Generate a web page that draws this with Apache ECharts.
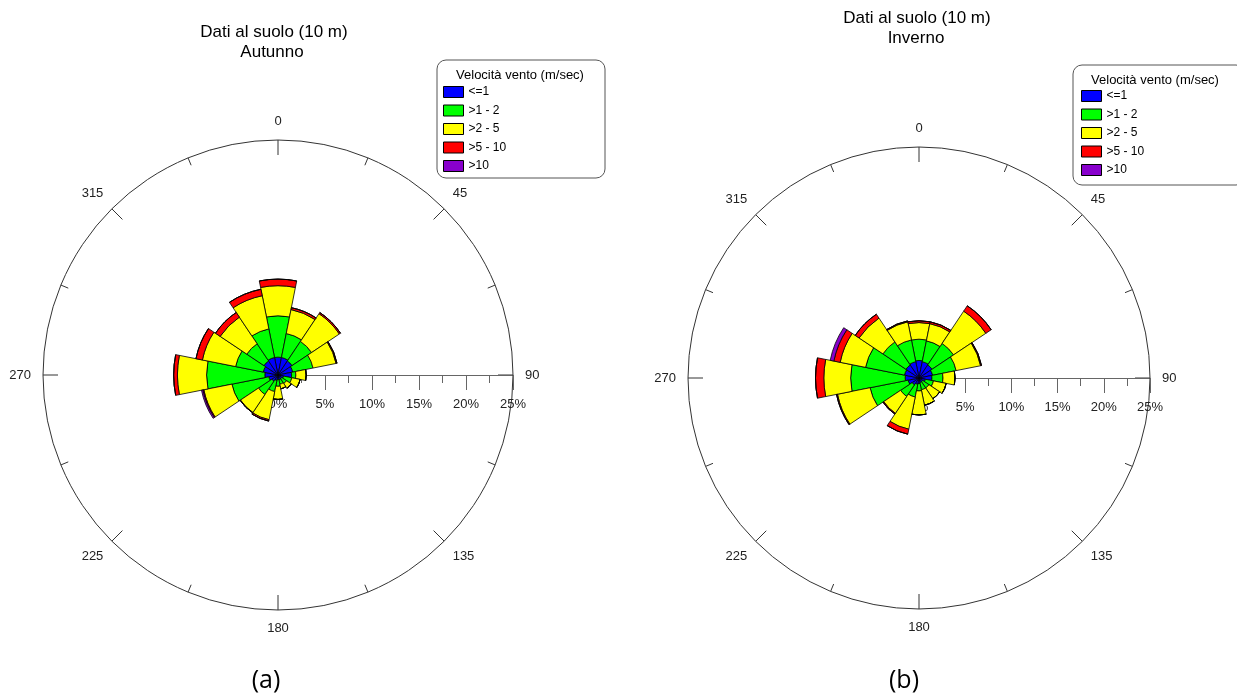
<!DOCTYPE html>
<html>
<head>
<meta charset="utf-8">
<script src="https://cdn.jsdelivr.net/npm/echarts@6/dist/echarts.min.js"></script>
<style>
html, body { margin: 0; background: #fff; }
#rose { width: 1237px; height: 698px; }
</style>
</head>
<body>
<div id="rose"></div>
<script>
// 16 settori di direzione (gradi), in senso orario da nord
var directions = ['0', '22.5', '45', '67.5', '90', '112.5', '135', '157.5',
                  '180', '202.5', '225', '247.5', '270', '292.5', '315', '337.5'];
var classes = ['<=1', '>1 - 2', '>2 - 5', '>5 - 10', '>10'];
var colors = ['#0000ff', '#00ff00', '#ffff00', '#ff0000', '#8800cc'];

// frequenze (%) per classe di velocita' - Autunno
var autLe1  = [1.9, 1.9, 1.8, 1.6, 1.45, 0.6, 0.5, 0.5, 0.5, 0.6, 0.8, 1.0, 1.4, 1.6, 1.8, 1.9];
var aut1_2  = [4.4, 2.6, 2.5, 2.2, 0.45, 0.9, 0.6, 0.5, 0.7, 1.2, 1.7, 4.0, 6.2, 3.0, 2.2, 3.1];
var aut2_5  = [3.2, 2.6, 3.55, 2.5, 1.1, 0.9, 0.6, 0.5, 1.4, 3.05, 2.3, 3.05, 3.1, 3.6, 3.4, 3.6];
var aut5_10 = [0.7, 0.2, 0.15, 0.1, 0, 0, 0, 0, 0, 0.15, 0.05, 0.1, 0.4, 0.7, 0.6, 0.7];
var autGt10 = [0, 0, 0, 0, 0, 0, 0, 0, 0, 0, 0, 0.15, 0, 0, 0, 0];

// frequenze (%) per classe di velocita' - Inverno
var invLe1  = [1.9, 1.8, 1.7, 1.5, 1.4, 0.7, 0.5, 0.5, 0.6, 0.7, 0.9, 1.2, 1.5, 1.6, 1.7, 1.8];
var inv1_2  = [2.3, 2.3, 2.8, 2.6, 1.2, 0.9, 0.8, 0.8, 0.8, 1.4, 1.5, 4.2, 5.9, 4.3, 3.0, 2.4];
var inv2_5  = [1.8, 1.9, 4.2, 2.7, 1.3, 1.4, 1.4, 1.7, 2.6, 3.55, 2.2, 3.6, 2.9, 2.8, 3.1, 2.0];
var inv5_10 = [0.2, 0.2, 0.7, 0.1, 0, 0, 0, 0, 0, 0.55, 0.1, 0.1, 0.9, 0.7, 0.5, 0.1];
var invGt10 = [0, 0, 0, 0, 0, 0, 0, 0, 0, 0, 0, 0, 0, 0.4, 0, 0];

var radiusMax = 25;
var radiusStep = 5;

var font = 'Liberation Sans, Arial, sans-serif';
var myChart = echarts.init(document.getElementById('rose'));

function frameAxes(polarIndex) {
    return {
        angle: {
            polarIndex: polarIndex,
            type: 'value', min: 0, max: 360, interval: 45,
            startAngle: 0, clockwise: true,
            axisLine: { lineStyle: { color: '#333', width: 1 } },
            axisTick: { inside: true, length: 15, lineStyle: { color: '#333' } },
            minorTick: { show: true, splitNumber: 2, length: 8, lineStyle: { color: '#333' } },
            axisLabel: {
                margin: 12, color: '#222', fontSize: 13, fontFamily: font,
                formatter: function (v) { return String((v + 90) % 360); }
            },
            splitLine: { show: false }
        },
        radius: {
            polarIndex: polarIndex,
            type: 'value', min: 0, max: radiusMax, interval: radiusStep,
            axisLine: { lineStyle: { color: '#666', width: 1 } },
            // il lato di default e' sopra l'asse: valori negativi per disegnare sotto
            axisTick: { length: -15, lineStyle: { color: '#666' } },
            minorTick: { show: true, splitNumber: 2, length: -8, lineStyle: { color: '#666' } },
            axisLabel: { margin: -36, color: '#222', fontSize: 13, fontFamily: font, formatter: '{value}%' },
            splitLine: { show: false }
        }
    };
}

function roseSeries(polarIndex, stack, lists) {
    return lists.map(function (d, i) {
        return {
            name: classes[i], type: 'bar', coordinateSystem: 'polar',
            polarIndex: polarIndex, stack: stack, data: d,
            barCategoryGap: '0%',
            itemStyle: { color: colors[i], borderColor: '#000', borderWidth: 0.8 },
            emphasis: { disabled: true }
        };
    });
}

var fa = frameAxes(1), fb = frameAxes(3);

function legendAt(left, top) {
    return {
        data: classes, orient: 'vertical', left: left, top: top, padding: 0,
        icon: 'rect', itemWidth: 20, itemHeight: 11, itemGap: 6.5,
        selectedMode: false,
        itemStyle: { borderColor: '#000', borderWidth: 1 },
        textStyle: { fontSize: 12, color: '#000', fontFamily: font }
    };
}

function txt(text, x, y, size, family) {
    return {
        type: 'text', x: x, y: y, silent: true,
        style: { text: text, align: 'center', verticalAlign: 'middle',
                 fontSize: size, fontFamily: family || font, fill: '#000' }
    };
}

option = {
    animation: false,
    polar: [
        { center: [278, 375], radius: 235 },
        { center: [278, 375], radius: 235 },
        { center: [919, 378], radius: 231 },
        { center: [919, 378], radius: 231 }
    ],
    angleAxis: [
        { polarIndex: 0, type: 'category', data: directions, startAngle: 101.25, clockwise: true, show: false },
        fa.angle,
        { polarIndex: 2, type: 'category', data: directions, startAngle: 101.25, clockwise: true, show: false },
        fb.angle
    ],
    radiusAxis: [
        { polarIndex: 0, type: 'value', min: 0, max: radiusMax, show: false },
        fa.radius,
        { polarIndex: 2, type: 'value', min: 0, max: radiusMax, show: false },
        fb.radius
    ],
    legend: [legendAt(443, 86), legendAt(1081, 90)],
    graphic: [
        { type: 'rect', shape: { x: 437, y: 60, width: 168, height: 118, r: 9 },
          style: { fill: '#fff', stroke: '#555', lineWidth: 1 } },
        { type: 'rect', shape: { x: 1073, y: 65, width: 172, height: 120, r: 9 },
          style: { fill: '#fff', stroke: '#555', lineWidth: 1 } },
        txt('Velocità vento (m/sec)', 520, 75, 13),
        txt('Velocità vento (m/sec)', 1155, 80, 13),
        txt('Dati al suolo (10 m)', 274, 32, 17),
        txt('Autunno', 272, 52, 17),
        txt('Dati al suolo (10 m)', 917, 18, 17),
        txt('Inverno', 916, 38, 17),
        txt('(a)', 266, 681, 25, 'Open Sans, sans-serif'),
        txt('(b)', 904, 681, 25, 'Open Sans, sans-serif')
    ],
    series: roseSeries(0, 'aut', [autLe1, aut1_2, aut2_5, aut5_10, autGt10])
        .concat(roseSeries(2, 'inv', [invLe1, inv1_2, inv2_5, inv5_10, invGt10]))
};

myChart.setOption(option);
</script>
</body>
</html>
